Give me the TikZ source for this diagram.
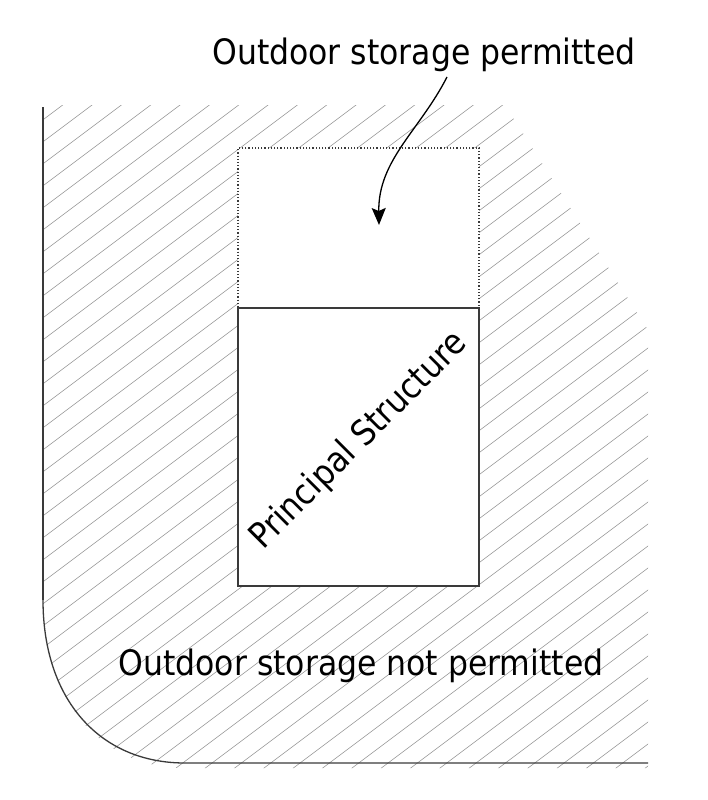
\documentclass[tikz,border=0pt]{standalone}
\usepackage{fontspec}
\setmainfont{DejaVu Sans Condensed}
\usetikzlibrary{arrows.meta}
\definecolor{edge}{HTML}{3A3A3A}
\definecolor{hatchc}{HTML}{9A9A9A}
\tikzset{
  lbl/.style={font=\fontsize{35}{40}\selectfont, text=black, inner sep=0pt},
  hatchline/.style={draw=hatchc, line width=0.6pt},
  border/.style={draw=edge, line width=1.4pt},
  solidbox/.style={draw=edge, line width=1.6pt, fill=white},
  dotbox/.style={draw=edge, line width=1.2pt, dash pattern=on 1.2pt off 2pt},
  pointer/.style={draw=black, line width=1.3pt, -{Stealth[length=17pt,width=14pt,inset=3pt]}}
}
\begin{document}
\begin{tikzpicture}[x=1pt,y=-1pt]
\useasboundingbox (0,0) rectangle (708,800);
% hatching
\begin{scope}
  \clip (43,105) -- (505,105) -- (648,330) -- (648,768) -- (185,768)
        .. controls (100,768) and (43,700) .. (43,600) -- cycle;
  \foreach \c in {0,...,56} {
    \draw[hatchline] (0,{108+22*\c}) -- (708,{108+22*\c-531});
  }
\end{scope}
% boundary of the lot
\draw[border, line width=1.9pt] (43,107) -- (43,600);
\draw[border, line width=1.3pt] (43,600) .. controls (43,700) and (100,763) .. (185,763) -- (648,763);
% rectangles
\path[fill=white] (238,148) rectangle (479,586);
\node[dotbox, minimum width=241pt, minimum height=160pt, inner sep=0pt] (storage) at (358.5,228) {};
\node[solidbox, minimum width=241pt, minimum height=278pt, inner sep=0pt] (house) at (358.5,447) {};
\draw[dotbox] (238,308) -- (479,308);
\node[lbl, rotate=45] (ps) at (359,441) {Principal Structure};
% labels
\node[lbl, anchor=base] (top) at (424,65) {Outdoor storage permitted};
\node[lbl, anchor=base] (bottom) at (361,675) {Outdoor storage not permitted};
\coordinate (start) at (447,77);
\coordinate (tip) at (379,225);
\draw[pointer] (start) .. controls (420,130) and (378,160) .. (tip);
\end{tikzpicture}
\end{document}
